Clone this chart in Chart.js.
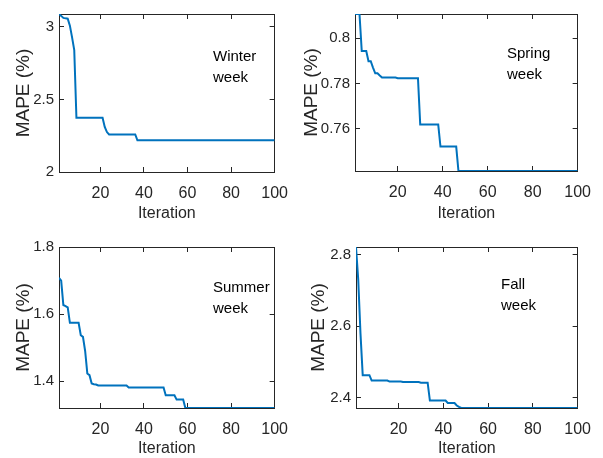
<!DOCTYPE html>
<html>
<head>
<meta charset="utf-8">
<script src="https://cdn.jsdelivr.net/npm/chart.js@4"></script>
<style>
	body { margin: 0; background: #fff; }
	canvas { position: absolute; }
</style>
</head>
<body>
<canvas id="winter" width="300" height="229" style="left:0;top:0"></canvas>
<canvas id="spring" width="303" height="229" style="left:300px;top:0"></canvas>
<canvas id="summer" width="300" height="229" style="left:0;top:229px"></canvas>
<canvas id="fall" width="303" height="229" style="left:300px;top:229px"></canvas>
<script>
// iteration counter for the x axis
const iterations = Array.from({ length: 100 }, (_, i) => i + 1);
const xTicks = [20, 40, 60, 80, 100];

// MAPE (%) per iteration
const winterMape = [
	3.088, 3.075, 3.061, 3.058, 3.056, 3.008, 2.927, 2.840, 2.374, 2.374,
	2.374, 2.374, 2.374, 2.374, 2.374, 2.374, 2.374, 2.374, 2.374, 2.374,
	2.374, 2.310, 2.275, 2.259, 2.259, 2.259, 2.259, 2.259, 2.259, 2.259,
	2.259, 2.259, 2.259, 2.259, 2.259, 2.259, 2.218, 2.218, 2.218, 2.218,
	2.218, 2.218, 2.218, 2.218, 2.218, 2.218, 2.218, 2.218, 2.218, 2.218,
	2.218, 2.218, 2.218, 2.218, 2.218, 2.218, 2.218, 2.218, 2.218, 2.218,
	2.218, 2.218, 2.218, 2.218, 2.218, 2.218, 2.218, 2.218, 2.218, 2.218,
	2.218, 2.218, 2.218, 2.218, 2.218, 2.218, 2.218, 2.218, 2.218, 2.218,
	2.218, 2.218, 2.218, 2.218, 2.218, 2.218, 2.218, 2.218, 2.218, 2.218,
	2.218, 2.218, 2.218, 2.218, 2.218, 2.218, 2.218, 2.218, 2.218, 2.218
];
const springMape = [
	0.8107, 0.8107, 0.8107, 0.7943, 0.7943, 0.7943, 0.7898, 0.7898, 0.7870, 0.7845,
	0.7845, 0.7835, 0.7826, 0.7826, 0.7826, 0.7826, 0.7826, 0.7826, 0.7826, 0.7823,
	0.7823, 0.7823, 0.7823, 0.7823, 0.7823, 0.7823, 0.7823, 0.7823, 0.7823, 0.7619,
	0.7619, 0.7619, 0.7619, 0.7619, 0.7619, 0.7619, 0.7619, 0.7619, 0.7521, 0.7521,
	0.7521, 0.7521, 0.7521, 0.7521, 0.7521, 0.7521, 0.7413, 0.7413, 0.7413, 0.7413,
	0.7413, 0.7413, 0.7413, 0.7413, 0.7413, 0.7413, 0.7413, 0.7413, 0.7413, 0.7413,
	0.7413, 0.7413, 0.7413, 0.7413, 0.7413, 0.7413, 0.7413, 0.7413, 0.7413, 0.7413,
	0.7413, 0.7413, 0.7413, 0.7413, 0.7413, 0.7413, 0.7413, 0.7413, 0.7413, 0.7413,
	0.7413, 0.7413, 0.7413, 0.7413, 0.7413, 0.7413, 0.7413, 0.7413, 0.7413, 0.7413,
	0.7413, 0.7413, 0.7413, 0.7413, 0.7413, 0.7413, 0.7413, 0.7413, 0.7413, 0.7413
];
const summerMape = [
	1.708, 1.700, 1.627, 1.624, 1.620, 1.574, 1.574, 1.574, 1.574, 1.574,
	1.537, 1.532, 1.490, 1.423, 1.418, 1.393, 1.391, 1.390, 1.387, 1.387,
	1.387, 1.387, 1.387, 1.387, 1.387, 1.387, 1.387, 1.387, 1.387, 1.387,
	1.387, 1.387, 1.381, 1.381, 1.381, 1.381, 1.381, 1.381, 1.381, 1.381,
	1.381, 1.381, 1.381, 1.381, 1.381, 1.381, 1.381, 1.381, 1.381, 1.358,
	1.358, 1.358, 1.358, 1.358, 1.345, 1.345, 1.345, 1.345, 1.320, 1.320,
	1.320, 1.320, 1.320, 1.320, 1.320, 1.320, 1.320, 1.320, 1.320, 1.320,
	1.320, 1.320, 1.320, 1.320, 1.320, 1.320, 1.320, 1.320, 1.320, 1.320,
	1.320, 1.320, 1.320, 1.320, 1.320, 1.320, 1.320, 1.320, 1.320, 1.320,
	1.320, 1.320, 1.320, 1.320, 1.320, 1.320, 1.320, 1.320, 1.320, 1.320
];
const fallMape = [
	2.822, 2.730, 2.580, 2.463, 2.463, 2.463, 2.463, 2.448, 2.448, 2.448,
	2.448, 2.448, 2.448, 2.448, 2.448, 2.445, 2.445, 2.445, 2.445, 2.445,
	2.445, 2.444, 2.444, 2.444, 2.444, 2.444, 2.444, 2.444, 2.444, 2.442,
	2.442, 2.442, 2.442, 2.392, 2.392, 2.392, 2.392, 2.392, 2.392, 2.392,
	2.392, 2.385, 2.385, 2.385, 2.385, 2.378, 2.374, 2.371, 2.371, 2.371,
	2.371, 2.371, 2.371, 2.371, 2.371, 2.371, 2.371, 2.371, 2.371, 2.371,
	2.371, 2.371, 2.371, 2.371, 2.371, 2.371, 2.371, 2.371, 2.371, 2.371,
	2.371, 2.371, 2.371, 2.371, 2.371, 2.371, 2.371, 2.371, 2.371, 2.371,
	2.371, 2.371, 2.371, 2.371, 2.371, 2.371, 2.371, 2.371, 2.371, 2.371,
	2.371, 2.371, 2.371, 2.371, 2.371, 2.371, 2.371, 2.371, 2.371, 2.371
];

// y tick labels and limits per panel
const winterTicks = [2, 2.5, 3];
const springTicks = [0.76, 0.78, 0.8];
const summerTicks = [1.4, 1.6, 1.8];
const fallTicks = [2.4, 2.6, 2.8];
const winterRange = [2, 3.088];
const springRange = [0.7413, 0.8107];
const summerRange = [1.32, 1.8];
const fallRange = [2.371, 2.822];

Chart.defaults.font.family = '"Liberation Sans", Arial, Helvetica, sans-serif';
const axisColor = '#262626';

// matlab-ish box: top/right edges, inward ticks, and the season note
const boxPlugin = {
	id: 'box',
	beforeDatasetsDraw(chart) {
		const { ctx, chartArea: a, scales: { x, y } } = chart;
		const al = p => Math.round(p - 0.5) + 0.5;
		ctx.save();
		ctx.strokeStyle = axisColor;
		ctx.lineWidth = 1;
		ctx.beginPath();
		ctx.moveTo(al(a.left), al(a.top));
		ctx.lineTo(al(a.right), al(a.top));
		ctx.lineTo(al(a.right), al(a.bottom));
		x.ticks.forEach(t => {
			const px = al(x.getPixelForValue(t.value));
			ctx.moveTo(px, a.bottom);
			ctx.lineTo(px, a.bottom - 5);
			ctx.moveTo(px, a.top);
			ctx.lineTo(px, a.top + 5);
		});
		y.ticks.forEach(t => {
			const py = al(y.getPixelForValue(t.value));
			ctx.moveTo(a.left, py);
			ctx.lineTo(a.left + 5, py);
			ctx.moveTo(a.right, py);
			ctx.lineTo(a.right - 5, py);
		});
		ctx.stroke();
		ctx.restore();
	},
	afterDatasetsDraw(chart, args, opts) {
		const { ctx, chartArea: a } = chart;
		ctx.save();
		ctx.fillStyle = '#000';
		ctx.font = '15px "Liberation Sans", Arial, sans-serif';
		ctx.textBaseline = 'alphabetic';
		opts.lines.forEach((s, i) => ctx.fillText(s, a.left + opts.dx, a.top + opts.dy + i * 21));
		ctx.restore();
	}
};

function makeChart(id, values, yTicks, range, lay, note) {
	return new Chart(document.getElementById(id), {
		type: 'line',
		data: {
			labels: iterations,
			datasets: [{
				data: values,
				borderColor: '#0072BD',
				borderWidth: 2,
				pointRadius: 0,
				tension: 0,
				fill: false
			}]
		},
		plugins: [boxPlugin],
		options: {
			responsive: false,
			animation: false,
			devicePixelRatio: 1,
			layout: { padding: { top: lay.top, right: lay.right, left: 0, bottom: 0 } },
			plugins: {
				legend: { display: false },
				tooltip: { enabled: false },
				box: note
			},
			scales: {
				x: {
					type: 'linear',
					min: 1,
					max: 100,
					afterBuildTicks: s => { s.ticks = xTicks.map(v => ({ value: v })); },
					afterFit: s => { s.height = lay.xh; },
					grid: { display: false, drawTicks: false },
					border: { display: true, color: axisColor, width: 1 },
					ticks: { color: axisColor, font: { size: 16 }, padding: 12, maxRotation: 0, callback: v => String(v) },
					title: { display: true, text: 'Iteration', color: axisColor, font: { size: 16 }, padding: { top: 0, bottom: lay.xt } }
				},
				y: {
					type: 'linear',
					min: range[0],
					max: range[1],
					afterBuildTicks: s => { s.ticks = yTicks.map(v => ({ value: v })); },
					afterFit: s => { s.width = lay.yw; },
					grid: { display: false, drawTicks: false },
					border: { display: true, color: axisColor, width: 1 },
					ticks: { color: axisColor, font: { size: 15 }, padding: 5, callback: v => String(v) },
					title: { display: true, text: 'MAPE (%)', color: axisColor, font: { size: 19 }, padding: { top: lay.yt, bottom: 0 } }
				}
			}
		}
	});
}

makeChart('winter', winterMape, winterTicks, winterRange,
	{ top: 11, right: 16, xh: 57, yw: 59, yt: 12, xt: 6 },
	{ lines: ['Winter', 'week'], dx: 154, dy: 47 });
makeChart('spring', springMape, springTicks, springRange,
	{ top: 11, right: 23, xh: 58, yw: 55, yt: 0, xt: 6 },
	{ lines: ['Spring', 'week'], dx: 152, dy: 44 });
makeChart('summer', summerMape, summerTicks, summerRange,
	{ top: 18, right: 16, xh: 50, yw: 59, yt: 12, xt: 0 },
	{ lines: ['Summer', 'week'], dx: 154, dy: 45 });
makeChart('fall', fallMape, fallTicks, fallRange,
	{ top: 18, right: 23, xh: 50, yw: 56, yt: 7, xt: 0 },
	{ lines: ['Fall', 'week'], dx: 145, dy: 42 });
</script>
</body>
</html>
